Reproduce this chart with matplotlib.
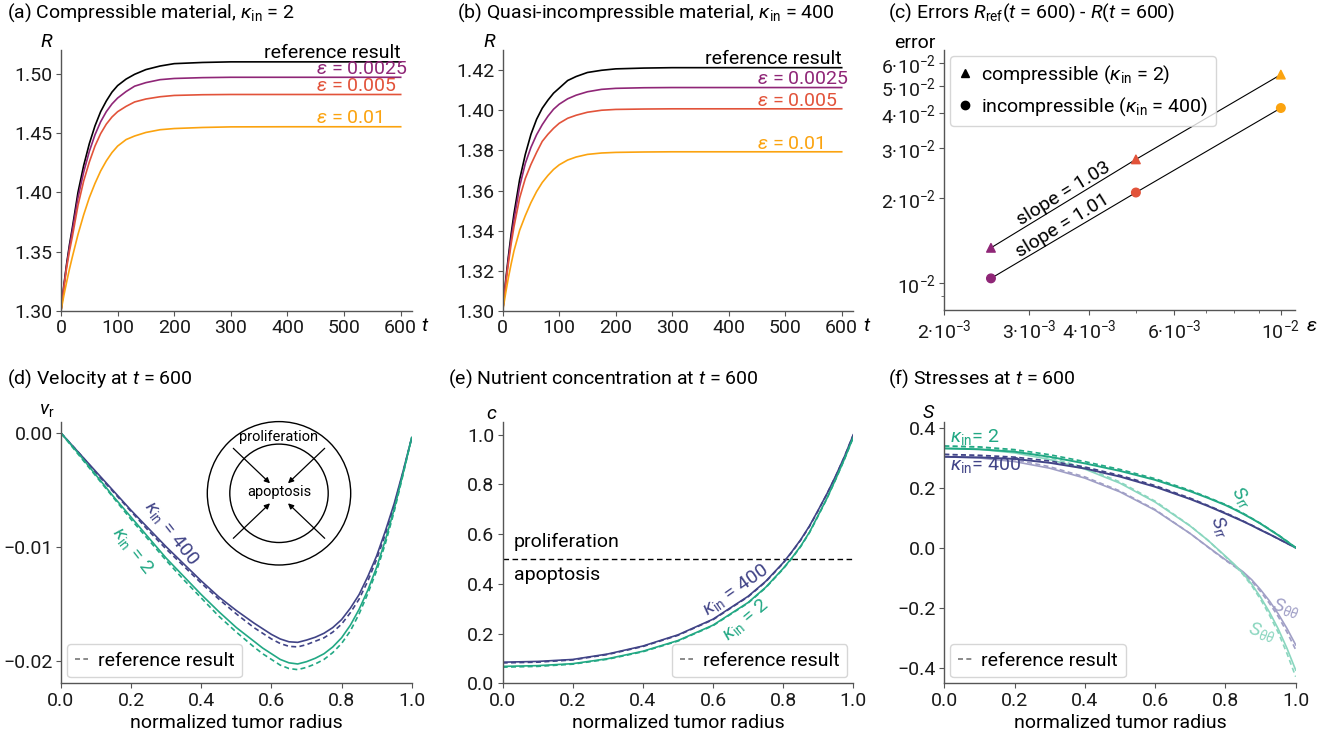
import numpy as np
import matplotlib
matplotlib.use("Agg")
import matplotlib.pyplot as plt
from matplotlib.patches import Circle
from matplotlib.lines import Line2D
from matplotlib.ticker import FixedLocator, NullFormatter

## ---------------- data ----------------
# (a), (b): tumor radius R over time
t_R = [0, 5, 10, 15, 20, 30, 40, 50, 60, 70, 80, 90, 100, 115, 130, 150, 175, 200, 250, 300, 400, 600]
Ra_ref = [1.300, 1.3215, 1.340, 1.356, 1.370, 1.400, 1.4225, 1.441, 1.456, 1.468, 1.477, 1.4845, 1.490,
          1.4955, 1.4995, 1.5035, 1.5065, 1.5085, 1.5095, 1.510, 1.510, 1.510]
Ra_e1 = [1.300, 1.3205, 1.3385, 1.354, 1.3675, 1.3955, 1.417, 1.4345, 1.4485, 1.4595, 1.468, 1.4745, 1.4795,
         1.485, 1.4895, 1.4925, 1.495, 1.496, 1.4967, 1.497, 1.497, 1.497]
Ra_e2 = [1.300, 1.319, 1.3365, 1.3505, 1.3625, 1.389, 1.4095, 1.4255, 1.439, 1.4495, 1.4575, 1.4635, 1.468,
         1.4725, 1.4762, 1.4787, 1.4806, 1.4817, 1.4823, 1.4825, 1.4825, 1.4825]
Ra_e3 = [1.300, 1.313, 1.3245, 1.3355, 1.3455, 1.3645, 1.381, 1.3955, 1.4075, 1.418, 1.4265, 1.4335, 1.439,
         1.4445, 1.4475, 1.4505, 1.4528, 1.4538, 1.4547, 1.4552, 1.4553, 1.4553]
Rb_ref = [1.300, 1.3145, 1.327, 1.3385, 1.3485, 1.3655, 1.378, 1.388, 1.3955, 1.401, 1.405, 1.4085, 1.411,
          1.4148, 1.4168, 1.4188, 1.4199, 1.4206, 1.4210, 1.4212, 1.4212, 1.4212]
Rb_e1 = [1.300, 1.3135, 1.3255, 1.336, 1.3455, 1.362, 1.3735, 1.3815, 1.3878, 1.3928, 1.397, 1.4005, 1.403,
         1.4057, 1.4075, 1.4092, 1.4104, 1.4109, 1.4112, 1.4113, 1.4113, 1.4113]
Rb_e2 = [1.300, 1.3125, 1.3235, 1.3335, 1.342, 1.3563, 1.366, 1.373, 1.379, 1.3845, 1.388, 1.391, 1.3935,
         1.396, 1.3975, 1.399, 1.400, 1.4004, 1.4006, 1.4007, 1.4007, 1.4007]
Rb_e3 = [1.300, 1.3085, 1.3165, 1.3235, 1.330, 1.3402, 1.3475, 1.354, 1.3595, 1.364, 1.3675, 1.3705, 1.3728,
         1.3752, 1.3767, 1.378, 1.3787, 1.379, 1.3792, 1.3793, 1.3793, 1.3793]
eps_labels = ["0.0025", "0.005", "0.01"]

# (c): errors
eps = [0.0025, 0.005, 0.01]
err_comp = [1.33e-2, 2.74e-2, 5.48e-2]
err_incomp = [1.036e-2, 2.09e-2, 4.17e-2]
slopes = ["1.03", "1.01"]

# (d): velocity
r_v = [0, .05, .1, .15, .2, .25, .3, .35, .4, .45, .5, .55, .575, .6, .625, .65, .675, .7, .725, .75,
       .775, .8, .825, .85, .875, .9, .925, .95, .975, 1.0]
v_400 = [0, -0.0017, -0.0034, -0.0051, -0.0068, -0.0084, -0.0100, -0.0115, -0.0130, -0.0144, -0.0156,
         -0.0167, -0.0172, -0.0177, -0.0181, -0.01835, -0.0184, -0.0182, -0.01795, -0.0176,
         -0.0171, -0.0164, -0.0154, -0.0142, -0.0126, -0.0108, -0.0086, -0.0062, -0.0034, -0.0004]
v_400_ref = [0, -0.0017, -0.0035, -0.0052, -0.0069, -0.0086, -0.0102, -0.0117, -0.0132, -0.0146, -0.0159,
             -0.0171, -0.0176, -0.0181, -0.0185, -0.01875, -0.0188, -0.0186, -0.0183, -0.0180,
             -0.0175, -0.0168, -0.0158, -0.0146, -0.0130, -0.0111, -0.0089, -0.0064, -0.0035, -0.0004]
v_2 = [0, -0.0018, -0.0037, -0.0056, -0.0074, -0.0092, -0.0110, -0.0126, -0.0142, -0.0157, -0.0171,
       -0.0183, -0.0189, -0.0194, -0.0199, -0.0202, -0.0203, -0.0201, -0.0198, -0.0194,
       -0.0188, -0.0180, -0.0169, -0.0155, -0.0138, -0.0118, -0.0094, -0.0067, -0.0036, -0.0004]
v_2_ref = [0, -0.0019, -0.0038, -0.0057, -0.0076, -0.0094, -0.0112, -0.0129, -0.0145, -0.0161, -0.0175,
           -0.0188, -0.0194, -0.0199, -0.0204, -0.0207, -0.0208, -0.0206, -0.0203, -0.0199,
           -0.0193, -0.0185, -0.0174, -0.0159, -0.0141, -0.0121, -0.0097, -0.0069, -0.0037, -0.0004]

# (e): nutrient concentration
r_c = [0, .1, .2, .3, .4, .5, .6, .7, .75, .8, .825, .85, .875, .9, .925, .95, .975, 1.0]
c_400 = [0.085, 0.088, 0.096, 0.118, 0.150, 0.195, 0.258, 0.350, 0.410, 0.485, 0.530, 0.578, 0.633, 0.697,
         0.763, 0.835, 0.913, 1.000]
c_400_ref = [0.082, 0.085, 0.094, 0.116, 0.148, 0.193, 0.256, 0.348, 0.408, 0.483, 0.528, 0.576, 0.631, 0.695,
             0.762, 0.834, 0.912, 1.000]
c_2 = [0.068, 0.071, 0.079, 0.099, 0.129, 0.172, 0.234, 0.325, 0.386, 0.462, 0.505, 0.552, 0.608, 0.676,
       0.745, 0.822, 0.903, 0.990]
c_2_ref = [0.065, 0.068, 0.077, 0.097, 0.127, 0.170, 0.232, 0.323, 0.384, 0.460, 0.503, 0.550, 0.606, 0.674,
           0.744, 0.821, 0.902, 0.990]
c_threshold = 0.5

# (f): stresses
r_s = [0, .1, .2, .3, .4, .5, .6, .7, .75, .8, .825, .85, .875, .9, .925, .95, .975, 1.0]
Srr_2 = [.331, .328, .320, .303, .281, .256, .226, .188, .166, .142, .128, .113, .097, .080, .061, .042, .021, 0]
Srr_2_ref = [.339, .336, .327, .310, .287, .261, .230, .191, .168, .144, .130, .115, .098, .081, .062, .043, .022, 0]
Srr_400 = [.303, .301, .296, .283, .264, .237, .203, .162, .139, .114, .101, .088, .074, .059, .045, .030, .015, 0]
Srr_400_ref = [.311, .308, .302, .289, .269, .241, .207, .165, .141, .116, .103, .089, .075, .060, .045, .030, .015, 0]
Stt_2 = [.331, .328, .316, .294, .262, .215, .152, .072, .025, -.028, -.055, -.085, -.122, -.165, -.214,
         -.270, -.335, -.408]
Stt_2_ref = [.339, .335, .323, .300, .267, .219, .155, .073, .025, -.030, -.058, -.089, -.127, -.172, -.224,
             -.282, -.352, -.430]
Stt_400 = [.303, .299, .287, .265, .232, .186, .125, .047, .003, -.040, -.059, -.080, -.107, -.140, -.177,
           -.220, -.269, -.324]
Stt_400_ref = [.311, .306, .293, .270, .236, .189, .127, .047, .002, -.042, -.062, -.084, -.112, -.146, -.185,
               -.229, -.281, -.340]

## ---------------- style ----------------
plt.rcParams.update({
    "font.family": "Roboto", "font.size": 14,
    "mathtext.fontset": "custom", "mathtext.rm": "Roboto",
    "mathtext.it": "Roboto:italic", "mathtext.bf": "Roboto:bold", "mathtext.sf": "Roboto",
    "axes.spines.top": False, "axes.spines.right": False,
    "axes.edgecolor": "#555555", "axes.linewidth": 1.0,
    "xtick.color": "#555555", "ytick.color": "#555555",
    "xtick.labelcolor": "#1a1a1a", "ytick.labelcolor": "#1a1a1a",
    "xtick.major.size": 3.5, "ytick.major.size": 3.5,
    "xtick.minor.size": 2.5, "ytick.minor.size": 2.5,
    "xtick.major.pad": 2.5, "ytick.major.pad": 2.5,
    "legend.fontsize": 14,
})

c_eps = ["#8f2677", "#e2533a", "#fba30f"]
c_blue = "#414487"
c_green = "#22a884"
c_blue_l = "#a09fc6"
c_green_l = "#8ad6bf"

W, H = 1339, 739
fig = plt.figure(figsize=(W / 100, H / 100), dpi=100)


def px_axes(l, r, t, b):
    return fig.add_axes([l / W, 1 - b / H, (r - l) / W, (b - t) / H])


def ftext(x, y, s, **kw):
    kw.setdefault("ha", "center")
    kw.setdefault("va", "center")
    fig.text(x / W, 1 - y / H, s, **kw)


ax_a = px_axes(61, 412, 50, 311)
ax_b = px_axes(502.7, 853, 50, 311)
ax_c = px_axes(944.3, 1295, 50, 310)
ax_d = px_axes(61, 411.7, 421.7, 683.3)
ax_e = px_axes(502.7, 853.3, 422.3, 683.3)
ax_f = px_axes(944.3, 1295.7, 422.3, 683.3)

## ---------------- (a), (b) ----------------
for ax, ref, series, ylim, yt in [
        (ax_a, Ra_ref, [Ra_e1, Ra_e2, Ra_e3], (1.30, 1.52), np.arange(1.30, 1.501, 0.05)),
        (ax_b, Rb_ref, [Rb_e1, Rb_e2, Rb_e3], (1.30, 1.43), np.arange(1.30, 1.421, 0.02))]:
    ax.plot(t_R, ref, color="black", lw=1.2)
    ax.text(600, ref[-1] - 0.0003, "reference result", ha="right", va="bottom", color="black")
    for R, col, lab in zip(series, c_eps, eps_labels):
        ax.plot(t_R, R, color=col, lw=1.2)
        ax.text(450, R[-1] - 0.0004, r"$ε$ = " + lab, ha="left", va="bottom", color=col)
    ax.set_xlim(0, 620)
    ax.set_ylim(*ylim)
    ax.set_xticks(range(0, 601, 100))
    ax.set_yticks(yt)
    ax.set_yticklabels(["%.2f" % v for v in yt])

## ---------------- (c) ----------------
ax_c.set_xscale("log")
ax_c.set_yscale("log")
ax_c.plot(eps, err_comp, color="black", lw=0.8, zorder=1)
ax_c.plot(eps, err_incomp, color="black", lw=0.8, zorder=1)
ax_c.scatter(eps, err_comp, marker="^", s=38, c=c_eps, zorder=3)
ax_c.scatter(eps, err_incomp, marker="o", s=38, c=c_eps, zorder=3)
ax_c.text(3.53e-3, 2.08e-2, "slope = " + slopes[0], rotation=31.5, ha="center", va="center",
          rotation_mode="anchor")
ax_c.text(3.52e-3, 1.60e-2, "slope = " + slopes[1], rotation=31.5, ha="center", va="center",
          rotation_mode="anchor")
ax_c.set_xlim(2e-3, 1.07e-2)
ax_c.set_ylim(8.0e-3, 6.7e-2)
ax_c.xaxis.set_major_locator(FixedLocator([2e-3, 3e-3, 4e-3, 6e-3, 1e-2]))
ax_c.xaxis.set_minor_locator(FixedLocator([5e-3, 7e-3, 8e-3, 9e-3]))
ax_c.xaxis.set_minor_formatter(NullFormatter())
ax_c.set_xticklabels([r"2·10$^{-3}$", r"3·10$^{-3}$", r"4·10$^{-3}$", r"6·10$^{-3}$", r"10$^{-2}$"])
ax_c.yaxis.set_major_locator(FixedLocator([1e-2, 2e-2, 3e-2, 4e-2, 5e-2, 6e-2]))
ax_c.yaxis.set_minor_locator(FixedLocator([9e-3]))
ax_c.yaxis.set_minor_formatter(NullFormatter())
ax_c.set_yticklabels([r"10$^{-2}$", r"2·10$^{-2}$", r"3·10$^{-2}$", r"4·10$^{-2}$",
                      r"5·10$^{-2}$", r"6·10$^{-2}$"])
handles = [Line2D([], [], ls="none", marker="^", color="black", markersize=6),
           Line2D([], [], ls="none", marker="o", color="black", markersize=6)]
ax_c.legend(handles, [r"compressible ($κ_{\rm in}$ = 2)", r"incompressible ($κ_{\rm in}$ = 400)"],
            loc="upper left", borderaxespad=0.3, handletextpad=0.5, handlelength=0.7)

## ---------------- (d) ----------------
ax_d.plot(r_v, v_400, color=c_blue, lw=1.2)
ax_d.plot(r_v, v_400_ref, color=c_blue, lw=1.2, ls="--", dashes=(3, 2))
ax_d.plot(r_v, v_2, color=c_green, lw=1.2)
ax_d.plot(r_v, v_2_ref, color=c_green, lw=1.2, ls="--", dashes=(3, 2))
ax_d.text(0.315, -0.0088, r"$κ_{\rm in}$ = 400", color=c_blue, rotation=-52, ha="center", va="center")
ax_d.text(0.205, -0.0103, r"$κ_{\rm in}$ = 2", color=c_green, rotation=-52, ha="center", va="center")
ax_d.set_xlim(0, 1)
ax_d.set_ylim(-0.022, 0.001)
ax_d.set_yticks([-0.02, -0.01, 0.0])
ax_d.set_yticklabels(["\u22120.02", "\u22120.01", "0.00"])

# schematic inset
ax_in = px_axes(199, 359, 413.3, 573.3)
ax_in.set_xlim(-80, 80)
ax_in.set_ylim(-80, 80)
ax_in.axis("off")
ax_in.add_patch(Circle((0, 0), 71.7, fill=False, ec="black", lw=1.0))
ax_in.add_patch(Circle((0, 0), 49.2, fill=False, ec="black", lw=1.0))
for sx in (-1, 1):
    for sy in (-1, 1):
        ax_in.annotate("", xy=(sx * 9, sy * 10), xytext=(sx * 45.7, sy * 45),
                       arrowprops=dict(arrowstyle="-|>", color="black", lw=0.9, mutation_scale=8,
                                       shrinkA=0, shrinkB=0))
ax_in.text(0, 56.6, "proliferation", ha="center", va="center", fontsize=10.5)
ax_in.text(0, 1.6, "apoptosis", ha="center", va="center", fontsize=10.5)

## ---------------- (e) ----------------
ax_e.axhline(c_threshold, color="black", lw=1.0, ls="--", dashes=(4, 2.5))
ax_e.plot(r_c, c_400, color=c_blue, lw=1.2)
ax_e.plot(r_c, c_400_ref, color=c_blue, lw=1.2, ls="--", dashes=(3, 2))
ax_e.plot(r_c, c_2, color=c_green, lw=1.2)
ax_e.plot(r_c, c_2_ref, color=c_green, lw=1.2, ls="--", dashes=(3, 2))
ax_e.text(0.032, 0.569, "proliferation", ha="left", va="center")
ax_e.text(0.032, 0.435, "apoptosis", ha="left", va="center")
ax_e.text(0.663, 0.375, r"$κ_{\rm in}$ = 400", color=c_blue, rotation=35, ha="center", va="center")
ax_e.text(0.691, 0.254, r"$κ_{\rm in}$ = 2", color=c_green, rotation=40, ha="center", va="center")
ax_e.set_xlim(0, 1)
ax_e.set_ylim(0, 1.05)
ax_e.set_yticks(np.arange(0, 1.01, 0.2))

## ---------------- (f) ----------------
ax_f.plot(r_s, Stt_400, color=c_blue_l, lw=1.2)
ax_f.plot(r_s, Stt_400_ref, color=c_blue_l, lw=1.2, ls="--", dashes=(3, 2))
ax_f.plot(r_s, Stt_2, color=c_green_l, lw=1.2)
ax_f.plot(r_s, Stt_2_ref, color=c_green_l, lw=1.2, ls="--", dashes=(3, 2))
ax_f.plot(r_s, Srr_400, color=c_blue, lw=1.4)
ax_f.plot(r_s, Srr_400_ref, color=c_blue, lw=1.2, ls="--", dashes=(3, 2))
ax_f.plot(r_s, Srr_2, color=c_green, lw=1.4)
ax_f.plot(r_s, Srr_2_ref, color=c_green, lw=1.2, ls="--", dashes=(3, 2))
ax_f.text(0.015, 0.37, r"$κ_{\rm in}$= 2", color=c_green, ha="left", va="center")
ax_f.text(0.015, 0.276, r"$κ_{\rm in}$= 400", color=c_blue, ha="left", va="center")
ax_f.text(0.845, 0.168, r"$S_{rr}$", color=c_green, rotation=-55, ha="center", va="center")
ax_f.text(0.785, 0.068, r"$S_{rr}$", color=c_blue, rotation=-65, ha="center", va="center")
ax_f.text(0.973, -0.202, r"$S_{θθ}$", color=c_blue_l, rotation=-15, ha="center", va="center")
ax_f.text(0.905, -0.28, r"$S_{θθ}$", color=c_green_l, rotation=-15, ha="center", va="center")
ax_f.set_xlim(0, 1)
ax_f.set_ylim(-0.452, 0.418)
ax_f.set_yticks([-0.4, -0.2, 0.0, 0.2, 0.4])
ax_f.set_yticklabels(["\u22120.4", "\u22120.2", "0.0", "0.2", "0.4"])

ref_handle = [Line2D([], [], color="#777777", ls="--", lw=1.2, dashes=(3, 2))]
for ax, loc in [(ax_d, "lower left"), (ax_e, "lower right"), (ax_f, "lower left")]:
    ax.legend(ref_handle, ["reference result"], loc=loc, borderaxespad=0.3, handlelength=0.7,
              handletextpad=0.5)
    ax.set_xticks(np.arange(0, 1.01, 0.2))
    ax.set_xticklabels(["%.1f" % v for v in np.arange(0, 1.01, 0.2)])

## ---------------- titles and axis labels ----------------
ftext(7, 13, r"(a) Compressible material, $κ_{\rm in}$ = 2", ha="left")
ftext(457, 13, r"(b) Quasi-incompressible material, $κ_{\rm in}$ = 400", ha="left")
ftext(888, 13, r"(c) Errors $R_{\rm ref}$($t$ = 600) - $R$($t$ = 600)", ha="left")
ftext(7, 379, r"(d) Velocity at $t$ = 600", ha="left")
ftext(448, 379, r"(e) Nutrient concentration at $t$ = 600", ha="left")
ftext(888, 379, r"(f) Stresses at $t$ = 600", ha="left")

ftext(47, 42, r"$R$")
ftext(490, 42, r"$R$")
ftext(915, 43, "error")
ftext(425, 326, r"$t$")
ftext(867, 326, r"$t$")
ftext(1312, 326, r"$ε$")
ftext(47, 410, r"$v_{\rm r}$")
ftext(492, 414, r"$c$")
ftext(929, 413, r"$S$")
for xc in (236, 678, 1120):
    ftext(xc, 723, "normalized tumor radius")

fig.savefig("out.png", dpi=100)
